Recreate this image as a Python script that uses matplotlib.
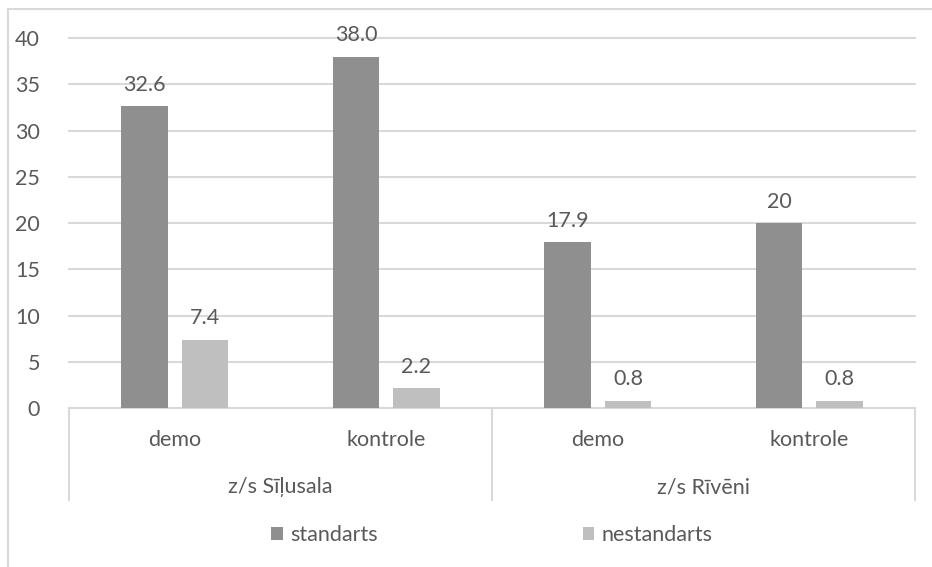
import matplotlib
matplotlib.use("Agg")
import matplotlib.pyplot as plt
from matplotlib.patches import Rectangle
from matplotlib.lines import Line2D
import numpy as np

plt.rcParams['font.family'] = ['Lato', 'DejaVu Sans']

groups = ["z/s Sīļusala", "z/s Rīvēni"]
subcats = ["demo", "kontrole", "demo", "kontrole"]
series = ["standarts", "nestandarts"]
standarts = [32.6, 38.0, 17.9, 20]
nestandarts = [7.4, 2.2, 0.8, 0.8]
standarts_lbl = ["32.6", "38.0", "17.9", "20"]
nestandarts_lbl = ["7.4", "2.2", "0.8", "0.8"]
yticks = [0, 5, 10, 15, 20, 25, 30, 35, 40]

c_dark = "#8f8f8f"
c_light = "#bfbfbf"
c_grid = "#d9d9d9"
c_text = "#595959"
fs = 15.5

W, H = 932, 567
fig = plt.figure(figsize=(W / 100, H / 100), dpi=100)

# outer chart border
fig.add_artist(Rectangle((8 / W, -0.05), 1.1, (H - 9) / H + 0.05, transform=fig.transFigure,
                         fill=False, edgecolor=c_grid, lw=1.5))

x0, x1 = 69, 915
y0, y1 = 408, 38
ax = fig.add_axes([x0 / W, (H - y0) / H, (x1 - x0) / W, (y0 - y1) / H])
ax.set_xlim(-0.5, 3.5)
ax.set_ylim(0, 40)

x = np.arange(len(subcats))
bw = 0.222
off = 0.143
b1 = ax.bar(x - off, standarts, bw, color=c_dark, zorder=3, label=series[0])
b2 = ax.bar(x + off, nestandarts, bw, color=c_light, zorder=3, label=series[1])

for bars, lbls in ((b1, standarts_lbl), (b2, nestandarts_lbl)):
    for b, t in zip(bars, lbls):
        ax.annotate(t, (b.get_x() + b.get_width() / 2, b.get_height()),
                    xytext=(0, 8), textcoords="offset points",
                    ha="center", va="bottom", fontsize=fs, color=c_text)

ax.set_yticks(yticks)
ax.set_yticklabels([str(v) for v in yticks], fontsize=fs, color=c_text)
ax.tick_params(axis="y", length=0, pad=21)
ax.set_xticks([])
for s in ax.spines.values():
    s.set_visible(False)
for v in yticks:
    ax.axhline(v, color=c_grid, lw=1.5, zorder=0, clip_on=False)

# multi-level category axis
trans = ax.get_xaxis_transform()
for xv in (-0.5, 1.5, 3.5):
    ax.add_line(Line2D([xv, xv], [0, -92 / (y0 - y1)], transform=trans,
                       color=c_grid, lw=1.5, clip_on=False))
for xi, lab in zip(x, subcats):
    ax.text(xi, -32 / (y0 - y1), lab, transform=trans, ha="center", va="center",
            fontsize=fs, color=c_text)
for gi, g in enumerate(groups):
    ax.text(gi * 2 + 0.5, -79 / (y0 - y1), g, transform=trans, ha="center", va="center",
            fontsize=fs, color=c_text)

# legend
leg = fig.legend(handles=[b1, b2], labels=series, loc="center",
                 bbox_to_anchor=(492 / W, (H - 535) / H), ncol=2, frameon=False,
                 fontsize=fs, handlelength=0.55, handleheight=0.55, handletextpad=0.35,
                 columnspacing=9.5)
for t in leg.get_texts():
    t.set_color(c_text)

fig.savefig("out.png", dpi=100)
